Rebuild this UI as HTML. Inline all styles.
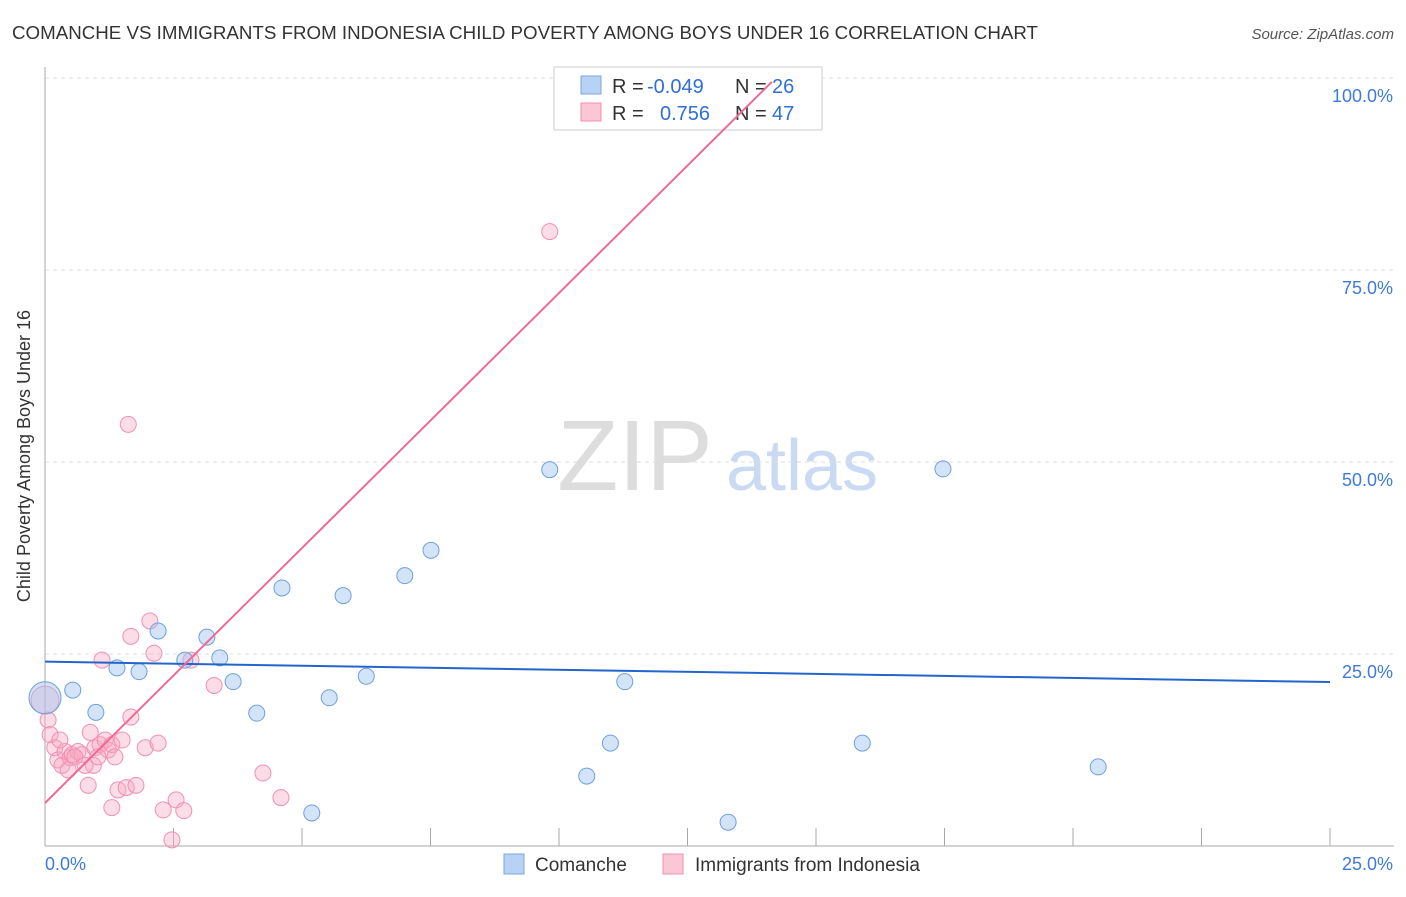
<!DOCTYPE html>
<html><head><meta charset="utf-8"><style>
body{margin:0;background:#fff;font-family:"Liberation Sans",sans-serif;}
svg text{font-family:"Liberation Sans",sans-serif;}
</style></head><body>
<svg id="chart" width="1406" height="892">
<text x="12" y="39" font-size="18" fill="#333" textLength="1026" lengthAdjust="spacingAndGlyphs">COMANCHE VS IMMIGRANTS FROM INDONESIA CHILD POVERTY AMONG BOYS UNDER 16 CORRELATION CHART</text>
<text x="1394" y="39" font-size="15" fill="#555" font-style="italic" text-anchor="end">Source: ZipAtlas.com</text>
<text x="30" y="456" font-size="18" fill="#333" text-anchor="middle" transform="rotate(-90 30 456)">Child Poverty Among Boys Under 16</text>
<text x="635" y="490" font-size="100" fill="#ddd" text-anchor="middle" font-family="Liberation Serif">ZIP</text>
<text x="802" y="490" font-size="72" fill="#c9daf2" text-anchor="middle">atlas</text>
<g id="grid"></g><g id="ticks"></g><g id="pts"></g>
<g>
<rect x="554" y="67" width="268" height="63" fill="#fff" stroke="#ccc"/>
<rect x="581" y="76" width="20" height="18" fill="#b8d2f5" stroke="#7aa6e0"/>
<text x="612" y="93" font-size="20" fill="#333">R = </text><text x="647" y="93" font-size="20" fill="#2f6fd6">-0.049</text>
<text x="735" y="93" font-size="20" fill="#333">N = </text><text x="772" y="93" font-size="20" fill="#2f6fd6">26</text>
<rect x="581" y="103" width="20" height="18" fill="#fbc6d6" stroke="#f090b0"/>
<text x="612" y="120" font-size="20" fill="#333">R = </text><text x="660" y="120" font-size="20" fill="#2f6fd6">0.756</text>
<text x="735" y="120" font-size="20" fill="#333">N = </text><text x="772" y="120" font-size="20" fill="#2f6fd6">47</text>
</g>
<g id="lines"></g>
<g>
<rect x="504" y="854" width="20" height="20" fill="#b8d2f5" stroke="#7aa6e0"/>
<text x="535" y="871" font-size="19" fill="#333">Comanche</text>
<rect x="663" y="854" width="20" height="20" fill="#fbc6d6" stroke="#f090b0"/>
<text x="695" y="871" font-size="19" fill="#333">Immigrants from Indonesia</text>
</g>
</svg>
<script>
const blueX=[0,0.54,0.99,1.4,1.83,2.2,2.72,3.15,3.4,3.66,4.12,4.61,5.19,5.53,5.8,6.25,7.0,7.51,9.82,10.54,11.0,11.28,13.29,15.9,17.47,20.49];
const blueY=[19.3,20.3,17.4,23.2,22.7,28.0,24.2,27.2,24.5,21.4,17.3,33.6,4.3,19.3,32.6,22.1,35.2,38.5,49.0,9.1,13.4,21.4,3.1,13.4,49.1,10.3];
const pinkX=[0,0.06,0.1,0.19,0.25,0.33,0.39,0.49,0.53,0.64,0.72,0.84,0.88,0.94,0.97,1.07,1.11,1.17,1.23,1.3,1.3,1.36,1.42,1.5,1.58,1.62,1.67,1.67,1.77,1.95,2.04,2.12,2.2,2.3,2.47,2.55,2.7,2.84,3.29,4.24,4.59,9.82,0.29,0.58,0.78,0.45,1.03];
const pinkY=[19.0,16.4,14.5,12.8,11.2,10.5,12.3,11.5,11.9,12.3,11.9,7.9,14.8,10.5,12.8,13.2,24.2,13.8,12.5,5.0,13.2,11.6,7.3,13.8,7.6,54.9,27.3,16.8,7.9,12.8,29.3,25.1,13.4,4.7,0.8,6.0,4.6,24.2,20.9,9.5,6.3,80.0,13.8,11.6,10.5,9.9,11.6];
const blueLine=[24.0,21.35];
const pinkLine=[5.6,6.64];
const xTicks=[0,2.5,5,7.5,10,12.5,15,17.5,20,22.5,25];
const yTicks=[25,50,75,100];
const yTickLabels=["25.0%","50.0%","75.0%","100.0%"];
const xScale=v=>45+v/25*1285, yScale=v=>846-v*7.68;
const NS="http://www.w3.org/2000/svg";
function mk(p,t,a){const e=document.createElementNS(NS,t);for(const k in a)e.setAttribute(k,a[k]);p.appendChild(e);return e;}
const grid=document.getElementById('grid'),ticks=document.getElementById('ticks'),pts=document.getElementById('pts'),lines=document.getElementById('lines');
yTicks.forEach((v,i)=>{
 const l=mk(grid,'line',{x1:45,x2:1394,y1:yScale(v),y2:yScale(v),stroke:'#ddd','stroke-dasharray':'4,4'});
 
 
 const t=mk(ticks,'text',{x:1393,y:yScale(v)+24,'font-size':18,fill:'#3d7bd9','text-anchor':'end'});t.textContent=yTickLabels[i];
 
 
});
const ax=mk(grid,'line',{x1:45,x2:1394,y1:846,y2:846,stroke:'#aaa'});


const ay=mk(grid,'line',{x1:45,x2:45,y1:67,y2:846,stroke:'#aaa'});


xTicks.forEach(v=>{if(v===0)return;
 const l=mk(grid,'line',{x1:xScale(v),x2:xScale(v),y1:828,y2:846,stroke:'#aaa'});
 
 });
let t=mk(ticks,'text',{x:45,y:870,'font-size':18,fill:'#3d7bd9'});t.textContent='0.0%';


t=mk(ticks,'text',{x:1393,y:870,'font-size':18,fill:'#3d7bd9','text-anchor':'end'});t.textContent='25.0%';


pinkX.forEach((x,i)=>{const c=mk(pts,'circle',{cx:xScale(x),cy:yScale(pinkY[i]),r:i===0?14:8,fill:'rgba(248,170,195,0.4)',stroke:'#f090b0','stroke-width':1});
 
 });
blueX.forEach((x,i)=>{const c=mk(pts,'circle',{cx:xScale(x),cy:yScale(blueY[i]),r:i===0?16:8,fill:'rgba(160,195,240,0.45)',stroke:'#6f9fe0','stroke-width':1});
 
 });
const bl=mk(lines,'line',{x1:xScale(0),y1:yScale(blueLine[0]),x2:xScale(25),y2:yScale(blueLine[1]),stroke:'#2266cc','stroke-width':2});


const xe=(99.5-pinkLine[0])/pinkLine[1];
const pl=mk(lines,'line',{x1:xScale(0),y1:yScale(pinkLine[0]),x2:xScale(xe),y2:yScale(99.5),stroke:'#ee6a95','stroke-width':2});


</script>
</body></html>
